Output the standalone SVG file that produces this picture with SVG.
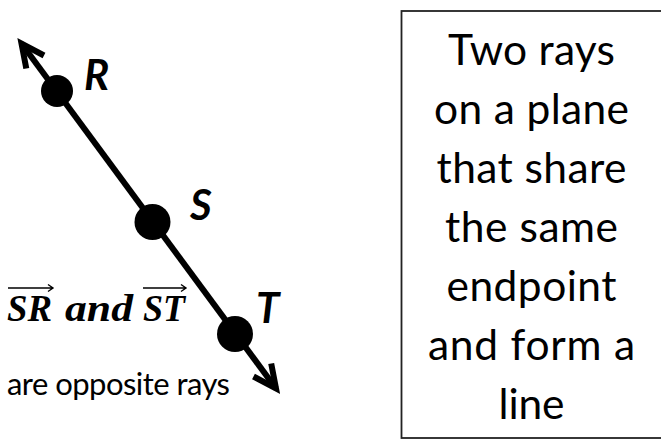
<svg xmlns="http://www.w3.org/2000/svg" width="661" height="444" viewBox="0 0 661 444">
<style>
.ray{stroke:#000;stroke-width:6;fill:none}
.dot{fill:#000}
.lbl{font-family:Lato,"Liberation Sans",sans-serif;font-weight:bold;font-style:italic;font-size:42px;fill:#000}
.math{font-family:"Liberation Serif",serif;font-weight:bold;font-style:italic;font-size:38px;fill:#000}
.vec{stroke:#000;stroke-width:1.4;fill:none}
.body{font-family:Lato,"Liberation Sans",sans-serif;fill:#000}
.box{fill:#fff;stroke:#222;stroke-width:1.8}
.def{font-family:Lato,"Liberation Sans",sans-serif;font-size:42.5px;fill:#000;text-anchor:middle}
</style>
<defs>
<marker id="chev" markerUnits="userSpaceOnUse" markerWidth="40" markerHeight="40" viewBox="-30 -20 40 40" refX="0" refY="0" orient="auto-start-reverse">
<path d="M-23,-11 L0,0 L-23,11" stroke="#000" stroke-width="6" fill="none" stroke-linejoin="miter"/>
</marker>
</defs>
<g id="connectors">
<path class="ray" d="M21.5,43.5 L276,388.5" marker-start="url(#chev)" marker-end="url(#chev)"/>
</g>
<g id="point-R">
<circle class="dot" cx="57" cy="91" r="16"/>
<text class="lbl" x="84" y="90">R</text>
</g>
<g id="point-S">
<circle class="dot" cx="152.5" cy="222" r="18"/>
<text class="lbl" x="190" y="220">S</text>
</g>
<g id="point-T">
<circle class="dot" cx="235" cy="334" r="18"/>
<text class="lbl" x="256" y="323">T</text>
</g>
<g id="caption">
<text class="math" x="7" y="321" textLength="45" lengthAdjust="spacingAndGlyphs">SR</text>
<text class="math" x="65" y="321" textLength="68" lengthAdjust="spacingAndGlyphs">and</text>
<text class="math" x="143" y="321" textLength="42" lengthAdjust="spacingAndGlyphs">ST</text>
<path class="vec" d="M8,288 H53 M48,284.5 L53,288 L48,291.5"/>
<path class="vec" d="M143,288 H186 M181,284.5 L186,288 L181,291.5"/>
<text class="body" x="7" y="395" font-size="31" textLength="223">are opposite rays</text>
</g>
<g id="definition-box">
<rect class="box" x="401.5" y="11" width="270" height="427"/>
<text class="def" x="531.5" y="65" textLength="167">Two rays</text>
<text class="def" x="531.5" y="124" textLength="195">on a plane</text>
<text class="def" x="531.5" y="183" textLength="190">that share</text>
<text class="def" x="531.5" y="242" textLength="173">the same</text>
<text class="def" x="531.5" y="301" textLength="170">endpoint</text>
<text class="def" x="531.5" y="360" textLength="207">and form a</text>
<text class="def" x="531.5" y="419" textLength="66">line</text>
</g>
</svg>
